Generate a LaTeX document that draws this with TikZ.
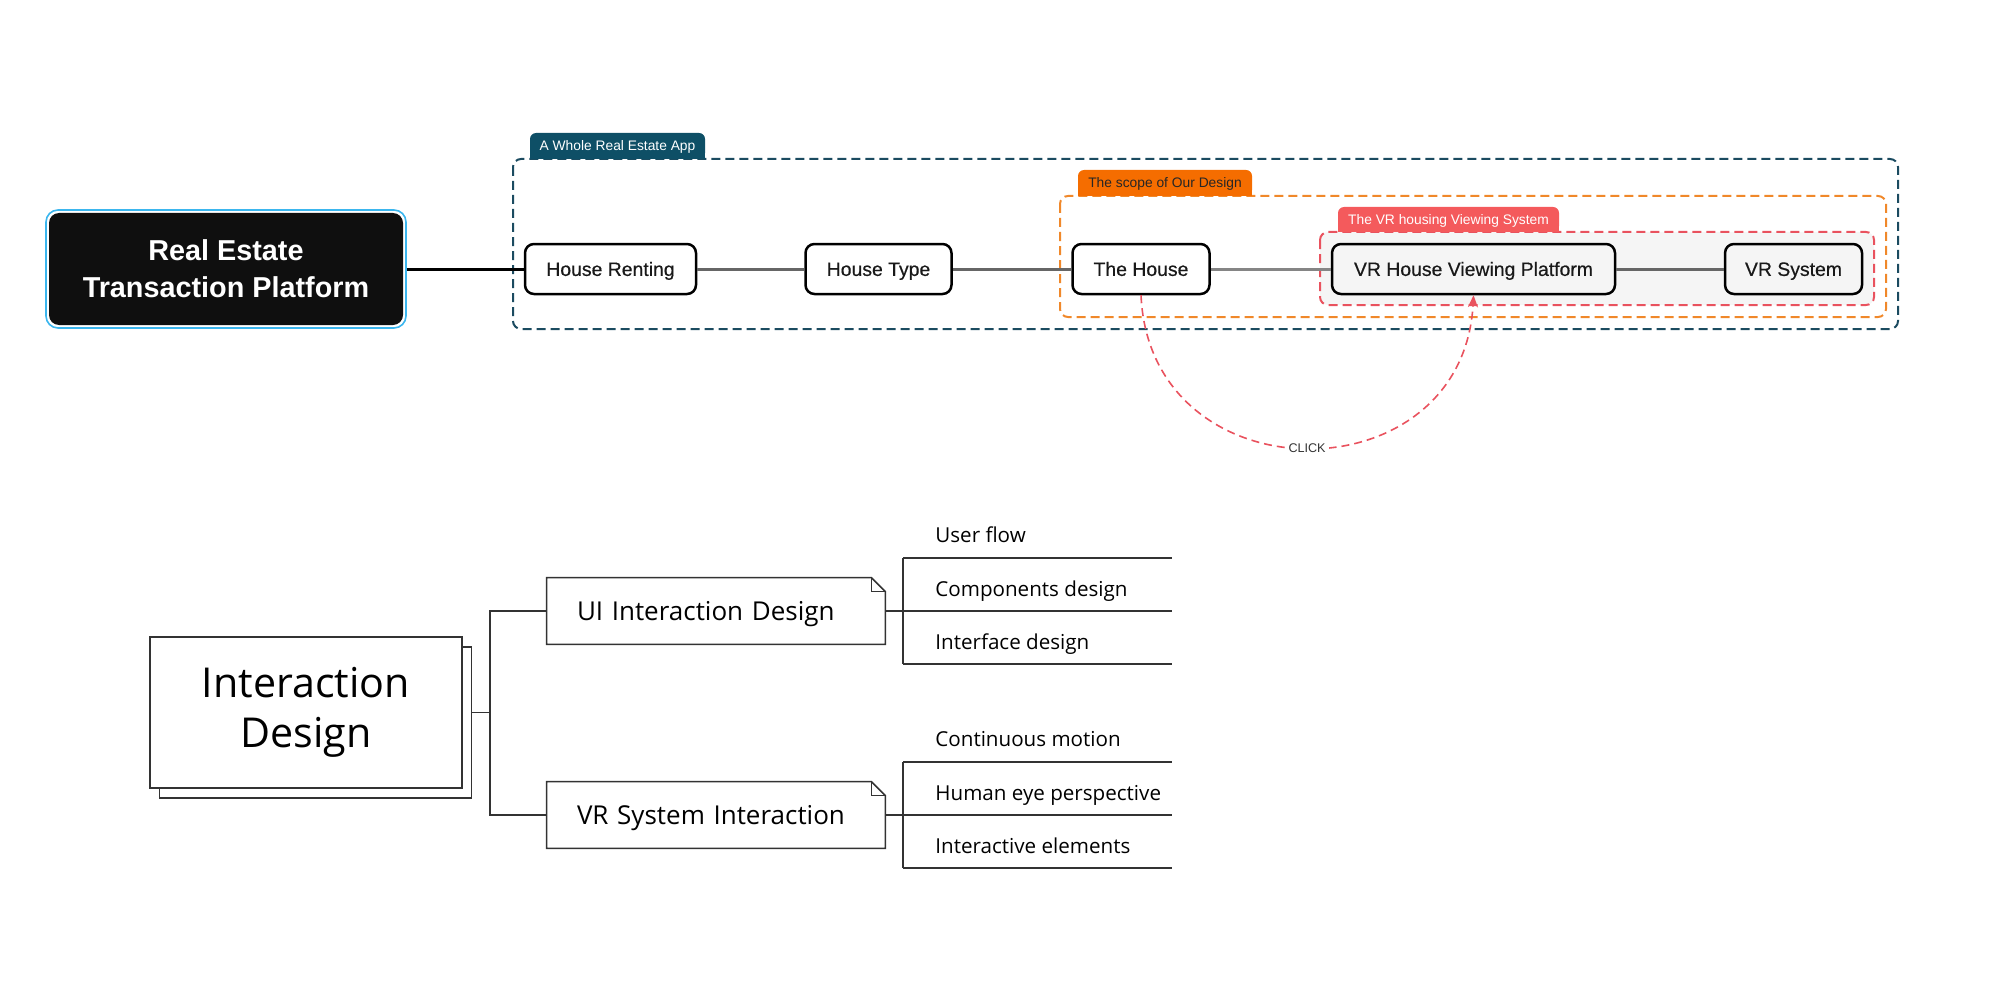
\documentclass[tikz,border=0pt]{standalone}
\usepackage{fontspec}
\setmainfont{Liberation Sans}
\newfontfamily\botfont{Open Sans}
\newfontfamily\medfont[FakeBold=0.45]{Liberation Sans}
\usetikzlibrary{arrows.meta,fit}

\definecolor{bluec}{HTML}{1B4B60}
\definecolor{bluelab}{HTML}{0E4F66}
\definecolor{orangec}{HTML}{F0882A}
\definecolor{orangelab}{HTML}{F56D00}
\definecolor{redc}{HTML}{E9525E}
\definecolor{redlab}{HTML}{F45A5C}
\definecolor{cyanb}{HTML}{3BB6EE}
\definecolor{panel}{HTML}{F5F5F5}
\definecolor{linec}{HTML}{333333}
\definecolor{mainblack}{HTML}{0F0F0F}
\definecolor{linkc}{HTML}{666666}

\tikzset{
  stepnode/.style={draw=black, line width=1.25pt, rounded corners=4.5pt, fill=white,
    minimum height=25pt, inner sep=0pt, text=black!90, text height=6.9pt, text depth=0pt,
    font=\medfont\fontsize{9.7}{11}\selectfont},
  grpbox/.style={dash pattern=on 4.5pt off 2.5pt, line width=1pt, rounded corners=4pt},
  tabtext/.style={inner sep=0pt, text height=4.9pt, text depth=0pt, font=\fontsize{6.9}{8}\selectfont},
  mainnode/.style={fill=mainblack, text=white, rounded corners=5pt, minimum width=177pt,
    minimum height=56pt, align=center, inner sep=0pt,
    font=\bfseries\fontsize{14.4}{18.5}\selectfont},
  link/.style={line width=1.5pt, draw=linkc},
  click/.style={draw=redc, dash pattern=on 4pt off 2.5pt, line width=0.8pt,
    -{Stealth[length=6pt,width=5pt]}},
  clicklab/.style={fill=white, inner sep=1.5pt, text=linec, font=\fontsize{6.3}{7}\selectfont},
  idbox/.style={draw=linec, line width=0.8pt, fill=white, minimum width=156pt,
    minimum height=75.5pt, inner sep=0pt},
  notetext/.style={inner xsep=15pt, inner ysep=0pt, text width=139pt, align=left,
    text height=9.4pt, text depth=0pt,
    minimum height=33pt, font=\botfont\fontsize{13}{15}\selectfont},
  notebox/.style={draw=linec, line width=0.8pt},
  tree/.style={draw=linec, line width=0.8pt},
  leaf/.style={anchor=base west, inner sep=0pt, font=\botfont\fontsize{10.3}{12}\selectfont}
}

\begin{document}
\begin{tikzpicture}[x=0.5pt,y=-0.5pt]
\useasboundingbox (0,0) rectangle (2000,1000);

% ---- group containers ----
\draw[grpbox, draw=bluec] (513,159) rectangle (1898,329);
\draw[grpbox, draw=orangec] (1060,196) rectangle (1886,317);
\draw[grpbox, draw=redc, fill=panel] (1320,232) rectangle (1874,305);

% ---- tabs ----
\fill[bluelab, rounded corners=3pt] (530,133) rectangle (705,159);
\fill[bluelab] (530,148) rectangle (705,159);
\node[tabtext, text=white] (tabA) at (617.5,146) {A Whole Real Estate App};

\fill[orangelab, rounded corners=3pt] (1078,170) rectangle (1252,196);
\fill[orangelab] (1078,185) rectangle (1252,196);
\node[tabtext, text=black!85] (tabB) at (1165,183) {The scope of Our Design};

\fill[redlab, rounded corners=3pt] (1338,207) rectangle (1559,232);
\fill[redlab] (1338,222) rectangle (1559,232);
\node[tabtext, text=white] (tabC) at (1448.5,219.5) {The VR housing Viewing System};

% ---- main node ----
\node[mainnode] (main) at (226,269) {Real Estate\\Transaction Platform};
\node[fit=(main), inner sep=1.3pt, draw=cyanb, line width=0.8pt, rounded corners=6pt] (mainring) {};

% ---- step nodes ----
\node[stepnode, minimum width=85.5pt] (rent) at (610.5,269) {House Renting};
\node[stepnode, minimum width=73pt] (type) at (878.5,269) {House Type};
\node[stepnode, minimum width=68.5pt] (house) at (1141,269) {The House};
\node[stepnode, minimum width=141.5pt, fill=panel] (vrp) at (1473.5,269) {VR House Viewing Platform};
\node[stepnode, minimum width=68.5pt, fill=panel] (vrs) at (1793.5,269) {VR System};

\draw[link, draw=black] (mainring) -- (rent);
\draw[link] (rent) -- (type);
\draw[link] (type) -- (house);
\draw[link, draw=linkc!80] (house) -- (vrp);
\draw[link] (vrp) -- (vrs);

% ---- click arrow ----
\draw[click] (house.south) .. controls (1150,499) and (1464,499) .. (vrp.south)
  node[pos=0.5, clicklab] (clk) {CLICK};

% ---- bottom: interaction design ----
\node[idbox] (idback) at (315.5,722.5) {};
\node[idbox, align=center, font=\botfont\fontsize{20.6}{25}\selectfont] (id) at (306,712.5) {Interaction\\Design};

\node[notetext] (ui) at (716,611) {UI Interaction Design};
\draw[notebox] (ui.north west) -- ([xshift=-7pt]ui.north east) -- ([yshift=-7pt]ui.north east)
  -- (ui.south east) -- (ui.south west) -- cycle;
\draw[tree] ([xshift=-7pt]ui.north east) |- ([yshift=-7pt]ui.north east);

\node[notetext] (vr) at (716,815) {VR System Interaction};
\draw[notebox] (vr.north west) -- ([xshift=-7pt]vr.north east) -- ([yshift=-7pt]vr.north east)
  -- (vr.south east) -- (vr.south west) -- cycle;
\draw[tree] ([xshift=-7pt]vr.north east) |- ([yshift=-7pt]vr.north east);

\coordinate (jn) at (490,712.5);
\draw[tree] (idback.east |- id.east) -- (jn);
\draw[tree] (jn) |- (ui.west);
\draw[tree] (jn) |- (vr.west);

% ---- leaves, UI ----
\coordinate (ua) at (903,557.7);
\coordinate (ub) at (903,664);
\coordinate (uaE) at (1172,557.7);
\coordinate (umE) at (1172,611);
\coordinate (ubE) at (1172,664);
\draw[tree] (ua) -- (ub);
\draw[tree] (ua) -- (uaE);
\draw[tree] (ui.east) -- (umE);
\draw[tree] (ub) -- (ubE);
\node[leaf] (l1) at (935,542.7) {User flow};
\node[leaf] (l2) at (935,596) {Components design};
\node[leaf] (l3) at (935,649.3) {Interface design};

% ---- leaves, VR ----
\coordinate (va) at (903,761.7);
\coordinate (vb) at (903,868);
\coordinate (vaE) at (1172,761.7);
\coordinate (vmE) at (1172,815);
\coordinate (vbE) at (1172,868);
\draw[tree] (va) -- (vb);
\draw[tree] (va) -- (vaE);
\draw[tree] (vr.east) -- (vmE);
\draw[tree] (vb) -- (vbE);
\node[leaf] (l4) at (935,746.7) {Continuous motion};
\node[leaf] (l5) at (935,800) {Human eye perspective};
\node[leaf] (l6) at (935,853.3) {Interactive elements};
\end{tikzpicture}
\end{document}
